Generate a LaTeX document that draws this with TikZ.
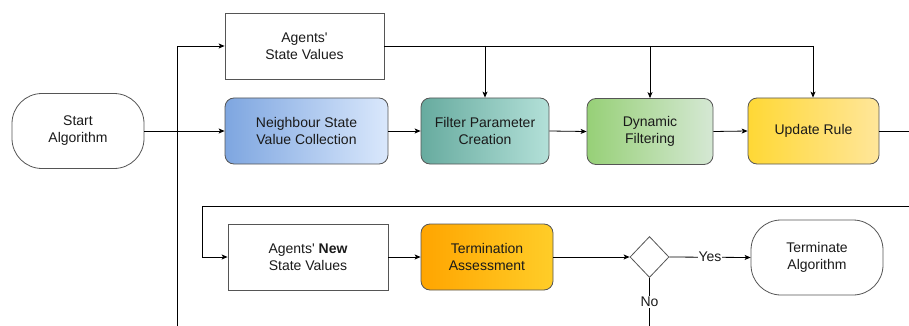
\documentclass[tikz,border=0pt]{standalone}
\usepackage{fontspec}
\setmainfont{Liberation Sans}
\usetikzlibrary{arrows.meta,shapes.geometric}
\definecolor{bleft}{HTML}{7EA6E0}\definecolor{bright}{HTML}{DAE8FC}
\definecolor{tleft}{HTML}{67AB9F}\definecolor{tright}{HTML}{B3E0D8}
\definecolor{gleft}{HTML}{97D077}\definecolor{gright}{HTML}{D5E8D4}
\definecolor{yleft}{HTML}{FFD835}\definecolor{yright}{HTML}{FFE69A}
\definecolor{oleft}{HTML}{FFA500}\definecolor{oright}{HTML}{FFCD28}
\definecolor{txt}{HTML}{1A1A1A}
\definecolor{edge}{HTML}{555555}
\tikzset{
  base/.style={draw=edge, line width=0.8pt, align=center, font=\fontsize{14}{17}\selectfont, text=txt, inner sep=0pt},
  plainbox/.style={base, rectangle},
  procbox/.style={base, rectangle, rounded corners=9pt},
  termbox/.style={base, rectangle, rounded corners=30pt, minimum width=132pt, minimum height=75pt},
  decision/.style={base, diamond, minimum width=39pt, minimum height=41pt},
  conn/.style={line width=0.8pt, draw=black},
  arr/.style={conn, -{Stealth[length=6pt,width=5pt,inset=1.5pt]}},
  lbl/.style={fill=white, inner sep=1pt, font=\fontsize{14}{17}\selectfont, text=txt}
}
\begin{document}
\begin{tikzpicture}[x=1pt,y=-1pt]
\useasboundingbox (0,0) rectangle (909,326);
% nodes
\node[termbox] (start) at (78,131) {Start\\Algorithm};
\node[plainbox, minimum width=159pt, minimum height=66pt] (agents) at (304.5,46) {Agents\textquotesingle\\State Values};
\node[procbox, minimum width=163pt, minimum height=66pt, left color=bleft, right color=bright] (neigh) at (306.5,131) {Neighbour State\\Value Collection};
\node[procbox, minimum width=128pt, minimum height=66pt, left color=tleft, right color=tright] (filter) at (485,131) {Filter Parameter\\Creation};
\node[procbox, minimum width=126pt, minimum height=66pt, left color=gleft, right color=gright] (dyn) at (650,131.5) {Dynamic\\Filtering};
\node[procbox, minimum width=131pt, minimum height=66pt, left color=yleft, right color=yright] (update) at (813.5,131) {Update Rule};
\node[plainbox, minimum width=160pt, minimum height=66pt] (newstate) at (308,257) {Agents\textquotesingle\ \textbf{New}\\State Values};
\node[procbox, minimum width=132pt, minimum height=66pt, left color=oleft, right color=oright] (term) at (487,257) {Termination\\Assessment};
\node[decision] (dec) at (649.5,257) {};
\node[termbox] (termalg) at (817,257.5) {Terminate\\Algorithm};
% free ends
\coordinate (vbot) at (177,326);
\coordinate (vtop) at (177,46);
\coordinate (topr) at (813,46);
\coordinate (rightout) at (909,131);
\coordinate (loopin) at (909,206);
\coordinate (loopl) at (202,206);
\coordinate (loopd) at (202,257);
\coordinate (nobot) at (649.5,326);
% connectors
\draw[conn] (vbot) -- (vtop);
\draw[arr] (vtop) -- (agents.west);
\draw[arr] (start.east) -- (neigh.west);
\draw[conn] (agents.east) -- (topr);
\draw[arr] (topr) -- (topr |- update.north);
\draw[arr] (agents.east -| filter.north) -- (filter.north);
\draw[arr] (agents.east -| dyn.north) -- (dyn.north);
\draw[arr] (neigh.east) -- (filter.west);
\draw[arr] (filter.east) -- (dyn.west);
\draw[arr] (dyn.east) -- (update.west);
\draw[conn] (update.east) -- (rightout);
\draw[conn] (loopin) -- (loopl) -- (loopd);
\draw[arr] (loopd) -- (newstate.west);
\draw[arr] (newstate.east) -- (term.west);
\draw[arr] (term.east) -- (dec.west);
\draw[arr] (dec.east) -- node[lbl] {Yes} (termalg.west);
\draw[conn] (dec.south) -- node[lbl, pos=0.5] {No} (nobot);
\end{tikzpicture}
\end{document}
